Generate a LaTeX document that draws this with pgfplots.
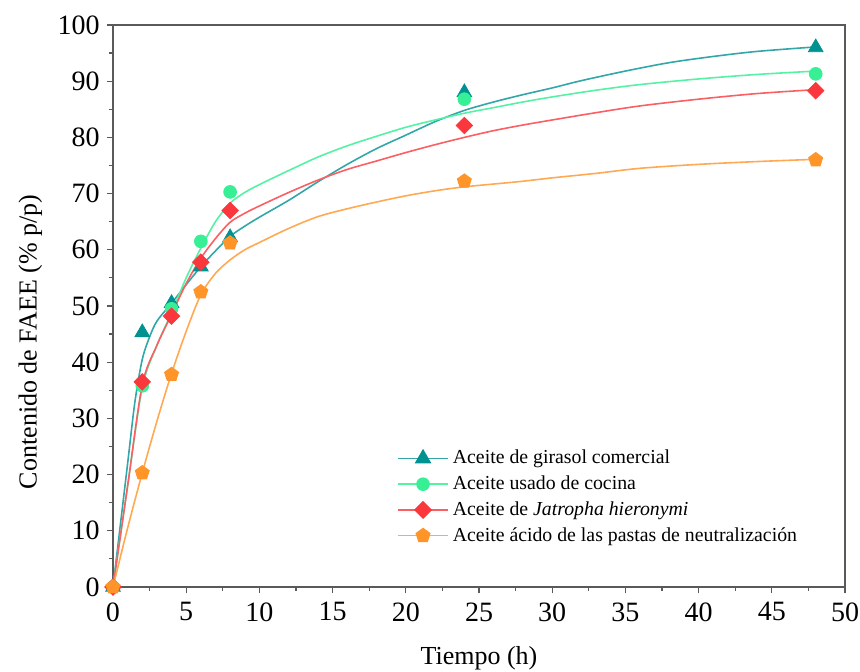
\documentclass[border=0pt]{standalone}
\usepackage{pgfplots}
\pgfplotsset{compat=1.18}
\usepackage{fontspec}
\setmainfont{Liberation Serif}
\definecolor{cteal}{RGB}{0,145,145}
\definecolor{cgreen}{RGB}{55,240,150}
\definecolor{cred}{RGB}{250,55,60}
\definecolor{corange}{RGB}{255,148,40}
\definecolor{cax}{RGB}{90,90,90}
\begin{document}
\begin{tikzpicture}
\useasboundingbox (-56.5pt,-42.5pt) rectangle (373.5pt,293.5pt);
\begin{axis}[
  at={(0,0)}, anchor=south west,
  width=366pt, height=281pt, scale only axis,
  xmin=0, xmax=50, ymin=0, ymax=100,
  xtick={0,5,...,50}, ytick={0,10,...,100},
  minor x tick num=1, minor y tick num=1,
  tick pos=left, tick align=outside,
  major tick length=3.2pt, minor tick length=2pt,
  axis line style={cax, line width=0.8pt},
  every tick/.style={cax, line width=0.6pt},
  /pgf/number format/assume math mode=true,
  ticklabel style={font=\fontsize{14}{15}\selectfont},
  xticklabel style={yshift=-1pt},
  yticklabel style={xshift=0pt},
  xlabel={Tiempo (h)}, ylabel={Contenido de FAEE (\% p/p)},
  label style={font=\fontsize{13}{14}\selectfont},
  xlabel style={at={(axis description cs:0.5,-0.126)}, anchor=center},
  ylabel style={at={(axis description cs:-0.113,0.436)}, anchor=center},
  clip=false,
  legend style={draw=none, fill=none, at={(0.385,0.255)}, anchor=north west,
    font=\fontsize{9.9}{11}\selectfont, row sep=0.5pt, inner sep=1pt},
  legend cell align=left,
  legend image code/.code={
    \draw[#1, mark repeat=2, mark phase=2] plot coordinates {(0cm,0cm) (0.44cm,0cm) (0.88cm,0cm)};},
]
% fitted curves
\addplot[cteal!80, line width=0.8pt, smooth, forget plot] coordinates {
(0,0) (1,22) (1.5,33) (2,40.5) (2.5,44.5) (3,47.3) (4,50.5) (5,53.8) (6,57) (7,59.8) (8,62.4) (9,64.2) (10,65.8) (12,68.8) (14,72.1) (16,75.2) (18,78) (20,80.4) (22,82.8) (24,84.8) (26,86.3) (28,87.6) (30,88.8) (32,90.1) (35,91.8) (38,93.3) (41,94.4) (44,95.3) (48,96.1)};
\addplot[cgreen!85, line width=0.8pt, smooth, forget plot] coordinates {
(0,0) (1,18) (2,35.5) (3,43) (4,48.8) (5,55) (6,60.3) (7,65) (8,68.3) (9,70.2) (10,71.6) (12,74.1) (14,76.5) (16,78.5) (18,80.2) (20,81.8) (22,83.1) (24,84.3) (26,85.3) (28,86.3) (30,87.2) (33,88.4) (36,89.4) (40,90.4) (44,91.2) (48,91.8)};
\addplot[cred!80, line width=0.8pt, smooth, forget plot] coordinates {
(0,0) (1,18) (2,36) (3,43) (4,48.5) (5,54) (6,58.5) (7,62) (8,64.9) (9,66.5) (10,67.8) (12,70.2) (14,72.4) (16,74.3) (18,75.8) (20,77.3) (22,78.7) (24,80) (26,81.2) (28,82.2) (30,83.1) (33,84.4) (36,85.6) (40,86.8) (44,87.8) (48,88.5)};
\addplot[corange!80, line width=0.8pt, smooth, forget plot] coordinates {
(0,0) (1,10.5) (2,20.3) (3,29.5) (4,38) (5,45.5) (6,52) (7,55.8) (8,58.2) (9,60) (10,61.3) (12,63.8) (14,65.9) (16,67.3) (18,68.5) (20,69.6) (22,70.5) (24,71.2) (26,71.7) (28,72.2) (30,72.8) (33,73.6) (36,74.5) (40,75.2) (44,75.7) (48,76.1)};
% experimental points
\addplot[only marks, mark=triangle*, mark size=4.2pt, color=cteal, forget plot] coordinates {
(0,0) (2,45.3) (4,50.5) (6,57) (8,62.2) (24,88) (48,96)};
\addplot[only marks, mark=*, mark size=3.2pt, color=cgreen, forget plot] coordinates {
(0,0) (2,35.8) (4,49.5) (6,61.5) (8,70.3) (24,86.8) (48,91.3)};
\addplot[only marks, mark=square*, mark options={rotate=45}, mark size=2.9pt, color=cred, forget plot] coordinates {
(0,0) (2,36.5) (4,48.2) (6,57.8) (8,67) (24,82.1) (48,88.3)};
\addplot[only marks, mark=pentagon*, mark size=3.7pt, color=corange, forget plot] coordinates {
(0,0) (2,20.3) (4,37.8) (6,52.5) (8,61.2) (24,72.2) (48,76)};
\addlegendimage{cteal!80, line width=0.8pt, mark=triangle*, mark options={cteal, solid, mark size=4pt}}
\addlegendentry{Aceite de girasol comercial}
\addlegendimage{cgreen!85, line width=0.8pt, mark=*, mark options={cgreen, mark size=3pt}}
\addlegendentry{Aceite usado de cocina}
\addlegendimage{cred!80, line width=0.8pt, mark=square*, mark options={cred, rotate=45, mark size=2.8pt}}
\addlegendentry{Aceite de \textit{Jatropha hieronymi}}
\addlegendimage{corange!80, line width=0.8pt, mark=pentagon*, mark options={corange, mark size=3.5pt}}
\addlegendentry{Aceite ácido de las pastas de neutralización}
\draw[cax, line width=0.8pt] (rel axis cs:0,1) -- (rel axis cs:1,1) -- (rel axis cs:1,0);
\end{axis}
\end{tikzpicture}
\end{document}
